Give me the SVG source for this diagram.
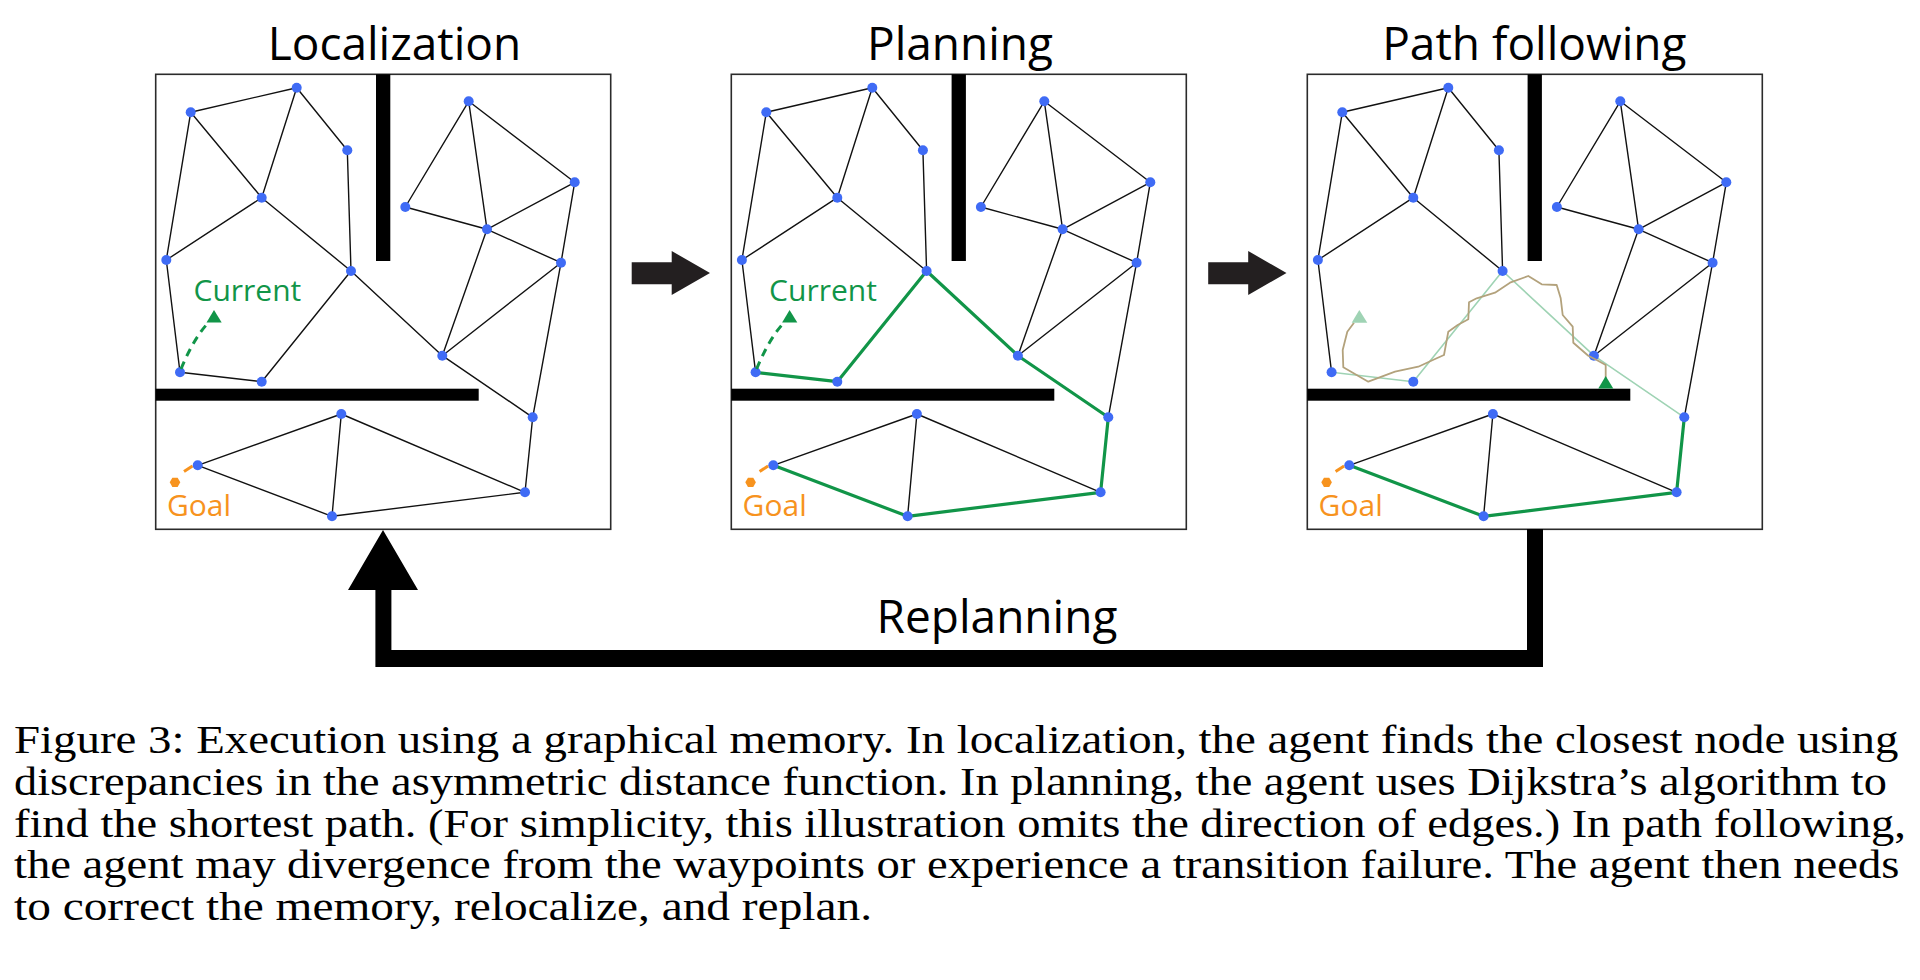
<svg xmlns="http://www.w3.org/2000/svg" xmlns:xlink="http://www.w3.org/1999/xlink" width="1920" height="980" viewBox="0 0 1920 980">
<style>
.box{fill:#fff;stroke:#2b2b2b;stroke-width:1.6}
.edge{fill:none;stroke:#111;stroke-width:1.4;stroke-linecap:round}
.wall{fill:#000}
.node{fill:#3f6bf5}
.title{font-family:"Open Sans","Liberation Sans",sans-serif;font-size:46px;fill:#000;text-anchor:middle}
.lbl{font-family:"Open Sans","Liberation Sans",sans-serif;font-size:30px}
.cap{font-family:"Liberation Serif",serif;font-size:41px;fill:#000}
.green{fill:#119548}
.orange{fill:#f7931e}
.pathThick{fill:none;stroke:#119548;stroke-width:3.2;stroke-linejoin:round}
.pathLight{fill:none;stroke:#9fd3b4;stroke-width:1.6;stroke-linejoin:round}
.blackPath{fill:none;stroke:#111;stroke-width:1.4;stroke-linejoin:round}
.traj{fill:none;stroke:#b3a27c;stroke-width:1.8;stroke-linejoin:round}
.dashG{fill:none;stroke:#119548;stroke-width:3;stroke-dasharray:8 6}
.dashO{fill:none;stroke:#f7931e;stroke-width:3}
.conn{fill:#000}
.arrow{fill:#231f20}
</style>
<defs>
<path id="baseEdges" class="edge" d="M190.7,112.3 L296.7,87.7 M190.7,112.3 L166.3,260 M190.7,112.3 L261.7,197.7 M296.7,87.7 L261.7,197.7 M296.7,87.7 L347.3,150.3 M347.3,150.3 L351,271 M261.7,197.7 L166.3,260 M261.7,197.7 L351,271 M166.3,260 L180,372.3 M468.7,101.3 L405.3,207 M468.7,101.3 L487,229.3 M468.7,101.3 L574.7,182.3 M405.3,207 L487,229.3 M574.7,182.3 L487,229.3 M574.7,182.3 L561,262.7 M487,229.3 L561,262.7 M487,229.3 L442.3,355.7 M561,262.7 L442.3,355.7 M561,262.7 L532.7,417.3 M197.7,465.3 L341.3,414 M341.3,414 L332,516.3 M341.3,414 L525,492.3"/>
<path id="pathA" d="M180,372.3 L261.7,381.7 L351,271 L442.3,355.7 L532.7,417.3"/>
<path id="pathB" d="M532.7,417.3 L525,492.3 L332,516.3 L197.7,465.3"/>
<g id="walls">
<rect class="wall" x="376" y="74.3" width="14.3" height="186.7"/>
<rect class="wall" x="155.7" y="388.7" width="323" height="12"/>
</g>
<g id="graphNodes">
<circle class="node" cx="190.7" cy="112.3" r="5"/>
<circle class="node" cx="296.7" cy="87.7" r="5"/>
<circle class="node" cx="347.3" cy="150.3" r="5"/>
<circle class="node" cx="261.7" cy="197.7" r="5"/>
<circle class="node" cx="166.3" cy="260" r="5"/>
<circle class="node" cx="351" cy="271" r="5"/>
<circle class="node" cx="180" cy="372.3" r="5"/>
<circle class="node" cx="261.7" cy="381.7" r="5"/>
<circle class="node" cx="468.7" cy="101.3" r="5"/>
<circle class="node" cx="574.7" cy="182.3" r="5"/>
<circle class="node" cx="405.3" cy="207" r="5"/>
<circle class="node" cx="487" cy="229.3" r="5"/>
<circle class="node" cx="561" cy="262.7" r="5"/>
<circle class="node" cx="442.3" cy="355.7" r="5"/>
<circle class="node" cx="532.7" cy="417.3" r="5"/>
<circle class="node" cx="341.3" cy="414" r="5"/>
<circle class="node" cx="197.7" cy="465.3" r="5"/>
<circle class="node" cx="525" cy="492.3" r="5"/>
<circle class="node" cx="332" cy="516.3" r="5"/>
</g>
<g id="goalMark">
<path class="dashO" d="M184,471.5 L192.5,466"/>
<polygon class="orange" points="180.3,482.3 177.65,486.9 172.35,486.9 169.7,482.3 172.35,477.7 177.65,477.7"/>
<text class="lbl orange" x="167" y="516">Goal</text>
</g>
<g id="currentMark">
<path class="dashG" d="M181,369 C188,352 197,335 208,323"/>
<polygon class="green" points="214,310 206.5,322.5 221.7,322.5"/>
<text class="lbl green" x="193.5" y="301">Current</text>
</g>
</defs>

<g id="panel-localization">
<text class="title" x="394.5" y="59.5">Localization</text>
<rect class="box" x="155.7" y="74.3" width="455" height="455"/>
<use xlink:href="#baseEdges"/>
<use xlink:href="#pathA" class="blackPath"/>
<use xlink:href="#pathB" class="blackPath"/>
<use xlink:href="#walls"/>
<use xlink:href="#graphNodes"/>
<use xlink:href="#currentMark"/>
<use xlink:href="#goalMark"/>
</g>

<g id="panel-planning">
<text class="title" x="960" y="59.5">Planning</text>
<g transform="translate(575.6,0)">
<rect class="box" x="155.7" y="74.3" width="455" height="455"/>
<use xlink:href="#baseEdges"/>
<use xlink:href="#pathA" class="pathThick"/>
<use xlink:href="#pathB" class="pathThick"/>
<use xlink:href="#walls"/>
<use xlink:href="#graphNodes"/>
<use xlink:href="#currentMark"/>
<use xlink:href="#goalMark"/>
</g>
</g>

<g id="panel-path-following">
<text class="title" x="1534.3" y="59.5">Path following</text>
<g transform="translate(1151.6,0)">
<rect class="box" x="155.7" y="74.3" width="455" height="455"/>
<use xlink:href="#baseEdges"/>
<use xlink:href="#pathA" class="pathLight"/>
<use xlink:href="#pathB" class="pathThick"/>
<use xlink:href="#walls"/>
<use xlink:href="#graphNodes"/>
<polyline class="traj" points="454.1,378 454.1,365 445.1,360 436.7,355.7 421.7,342.7 421.1,326.7 411.1,315 409.1,298.3 405.1,285 390.1,284.3 376.7,276 358.4,282.7 343.4,292.7 325.1,298.3 317.4,302.3 316.7,319.3 306.1,325 296.7,331.7 292.4,355 285.1,358.3 266.7,366.7 243.4,371.7 216.7,381.7 191.7,367.3 191.1,350 195.7,331.7 202.4,322.7"/>
<polygon fill="#9fd3b4" points="207.7,310 200.1,322.7 215.7,322.7"/>
<polygon class="green" points="454.1,376 446.7,388.5 461.7,388.5"/>
<use xlink:href="#goalMark"/>
</g>
</g>

<g id="connectors">
<polygon class="arrow" points="631.7,262.3 671.7,262.3 671.7,251 710,273 671.7,295 671.7,284.3 631.7,284.3"/>
<polygon class="arrow" points="1208.2,262.3 1248.2,262.3 1248.2,251 1286.5,273 1248.2,295 1248.2,284.3 1208.2,284.3"/>
<polygon class="conn" points="1527,529 1543,529 1543,667 375.4,667 375.4,590 348,590 383,530 418,590 391.4,590 391.4,650 1527,650"/>
<text class="title" x="997" y="632.7">Replanning</text>
</g>

<g id="caption">
<text class="cap" transform="translate(14,753) scale(1.1426,1)">Figure 3: Execution using a graphical memory. In localization, the agent finds the closest node using</text>
<text class="cap" transform="translate(14,795) scale(1.1310,1)">discrepancies in the asymmetric distance function. In planning, the agent uses Dijkstra’s algorithm to</text>
<text class="cap" transform="translate(14,836.7) scale(1.1333,1)">find the shortest path. (For simplicity, this illustration omits the direction of edges.) In path following,</text>
<text class="cap" transform="translate(14,878.3) scale(1.1373,1)">the agent may divergence from the waypoints or experience a transition failure. The agent then needs</text>
<text class="cap" transform="translate(14,920) scale(1.1553,1)">to correct the memory, relocalize, and replan.</text>
</g>
</svg>
